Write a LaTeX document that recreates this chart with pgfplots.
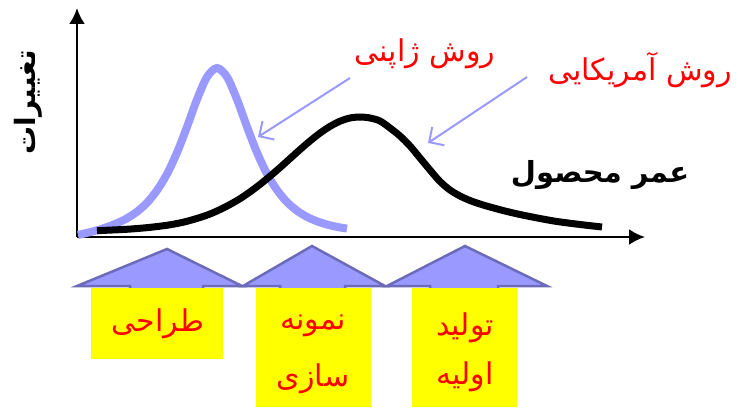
\documentclass[border=0pt]{standalone}
\usepackage{fontspec}
\usepackage{pgfplots}
\pgfplotsset{compat=1.18}
\usetikzlibrary{arrows.meta}
\TeXXeTstate=1
\newfontfamily\arabicfont[Script=Arabic]{DejaVu Sans}
\definecolor{japblue}{RGB}{153,153,255}
\definecolor{arrowedge}{RGB}{107,107,185}
\definecolor{boxyellow}{RGB}{255,255,0}

% bottom arrow shape: left, apex x, apex y, right, shaft left, shaft right, box
\newcommand{\phase}[7]{%
  \filldraw[fill=japblue, draw=arrowedge, line width=2.5pt, line join=miter]
    (#1,286) -- (#2,#3) -- (#4,286) -- (#6,286) -- (#6,300) -- (#5,300) -- (#5,286) -- cycle;
  \fill[boxyellow] #7;
}

\begin{document}
\begin{tikzpicture}
\useasboundingbox (0,0) rectangle (738pt,407pt);

% stages below the time axis (pixel coordinates, y downwards)
\begin{scope}[shift={(0pt,407pt)}, x=1pt, y=-1pt]
  \phase{77}{167}{249}{242}{130}{203}{(91,288) rectangle (223,359)}
  \phase{243}{312}{246}{385}{280}{345}{(256,288) rectangle (371,407)}
  \phase{387}{465}{246}{547}{430}{498}{(412,288) rectangle (517,407)}
  \begin{scope}[every node/.style={text=red, font=\arabicfont\fontsize{30}{34}\selectfont, inner sep=0pt}]
    \node at (158,324) {\beginR طراحی\endR};
    \node at (313,326) {\beginR نمونه\endR};
    \node at (313,379) {\beginR سازی\endR};
    \node at (465,328) {\beginR تولید\endR};
    \node at (465,377) {\beginR اولیه\endR};
  \end{scope}
\end{scope}

\begin{axis}[
  at={(77pt,170pt)}, anchor=south west,
  scale only axis, width=568pt, height=229pt,
  xmin=77, xmax=645, ymin=0, ymax=229,
  axis lines=left,
  xtick=\empty, ytick=\empty,
  axis line style={line width=2.5pt},
  every outer x axis line/.append style={-{Latex[length=16pt,width=16pt]}},
  every outer y axis line/.append style={-{Latex[length=16pt,width=16pt]}},
  clip=false,
]
% Japanese approach
\addplot[japblue, line width=8pt, smooth] coordinates {
  (78,2.0) (87,4.1) (97,6.7) (107,9.9) (117,13.8) (127,18.7) (137,25.3)
  (147,34.2) (157,46.6) (167,63.0) (177,84.4) (187,110.1) (197,137.6)
  (207,160.0) (217,169.0) (227,160.0) (237,137.6) (247,110.2) (257,84.5)
  (267,63.2) (277,47.0) (287,34.9) (297,26.3) (307,20.1) (317,15.7)
  (327,12.5) (337,10.1) (347,8.4)};
% American approach
\addplot[black, line width=7pt, smooth] coordinates {
  (97,6.3) (110,6.9) (125,7.6) (140,8.7) (155,10.2) (170,12.2) (185,15.2)
  (200,19.5) (210,23.0) (220,27.4) (230,32.5) (240,38.3) (250,45.1)
  (260,52.6) (270,60.8) (280,69.4) (290,78.4) (300,87.4) (310,96.0)
  (320,103.9) (330,110.6) (340,115.8) (350,119.0) (360,120.0) (370,119.0)
  (380,116.0) (390,109.0) (400,101.0) (410,91.0) (420,79.0) (430,67.0)
  (440,55.5) (450,47.0) (460,41.0) (470,36.5) (480,33.0) (490,30.0)
  (505,26.0) (520,22.5) (540,18.5) (557,15.5) (580,12.5) (602,10.0)};
\end{axis}

% labels and pointers (pixel coordinates, y downwards)
\begin{scope}[shift={(0pt,407pt)}, x=1pt, y=-1pt]
  \draw[japblue, line width=2pt, -{Straight Barb[length=11pt,width=22pt]}] (350,78) -- (258,137);
  \draw[japblue, line width=2pt, -{Straight Barb[length=11pt,width=22pt]}] (527,77) -- (428,143);
  \node[text=red, font=\arabicfont\fontsize{30}{34}\selectfont] at (425,54) {\beginR روش ژاپنی\endR};
  \node[text=red, font=\arabicfont\fontsize{30}{34}\selectfont] at (640,70) {\beginR روش آمریکایی\endR};
  \node[font=\arabicfont\bfseries\fontsize{29}{33}\selectfont] at (600,175) {\beginR عمر محصول\endR};
  \node[rotate=90, font=\arabicfont\bfseries\fontsize{28}{32}\selectfont] at (28,102) {\beginR تغییرات\endR};
\end{scope}
\end{tikzpicture}
\end{document}
